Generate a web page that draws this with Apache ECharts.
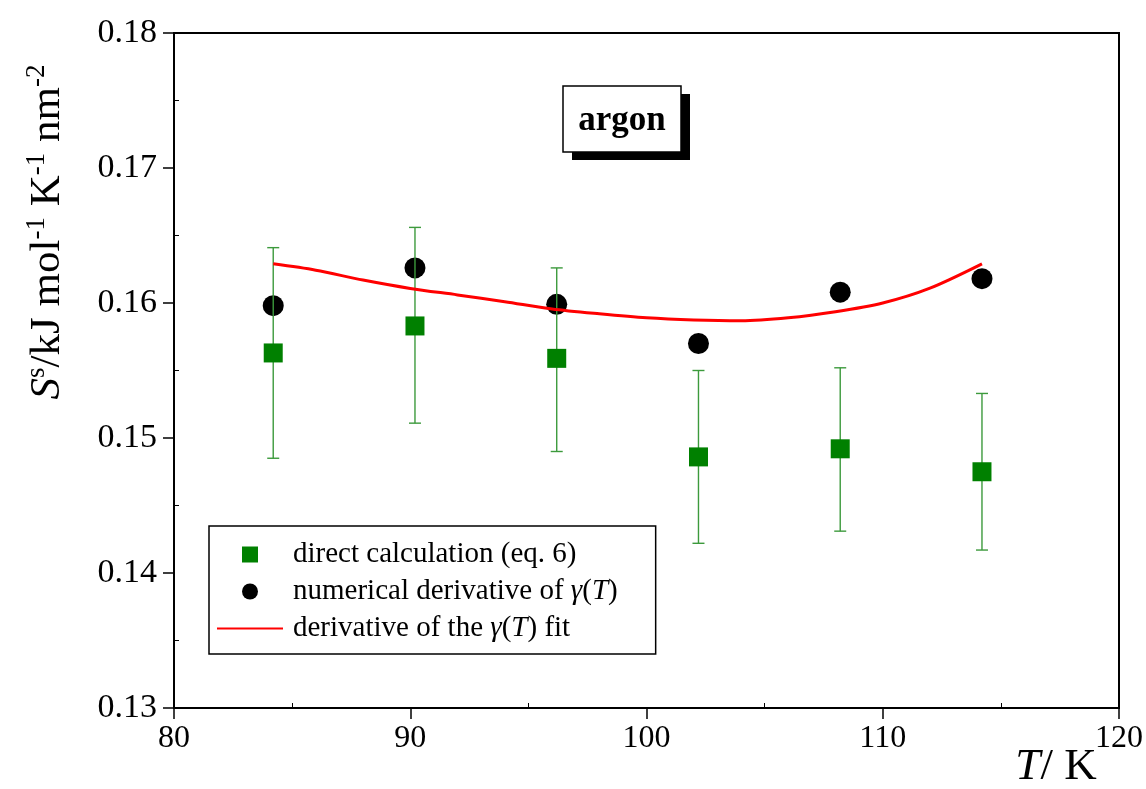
<!DOCTYPE html>
<html>
<head>
<meta charset="utf-8">
<script src="https://cdn.jsdelivr.net/npm/echarts@6/dist/echarts.min.js"></script>
<style>
  html, body { margin: 0; padding: 0; background: #fff; }
  #chart { width: 1146px; height: 789px; }
</style>
</head>
<body>
<div id="chart"></div>
<script>
// ─── data ────────────────────────────────────────────────────
const temps       = [84.2, 90.2, 96.2, 102.2, 108.2, 114.2]
const directVals  = [0.1563, 0.1583, 0.1559, 0.1486, 0.1492, 0.1475]
const directLow   = [0.1485, 0.1511, 0.1490, 0.1422, 0.1431, 0.1417]
const directHigh  = [0.1641, 0.1656, 0.1626, 0.1550, 0.1552, 0.1533]
const numericVals = [0.1598, 0.1626, 0.1599, 0.1570, 0.1608, 0.1618]

// fitted curve (derivative of the gamma(T) fit)
const fitT    = [84.2, 86, 88, 90, 92, 94, 96, 98, 100, 102, 104, 106, 108, 110, 112, 114.2]
const fitVals = [0.1629, 0.16243, 0.1617, 0.16108, 0.1606, 0.1601, 0.15956, 0.1592,
                 0.1589, 0.15874, 0.15868, 0.1589, 0.15935, 0.1600, 0.1611, 0.1629]

const seriesNames = ['direct calculation (eq. 6)', 'numerical derivative of γ(T)', 'derivative of the γ(T) fit']

const SERIF = 'Liberation Serif, Times New Roman, serif'

const chart = echarts.init(document.getElementById('chart'))

// error bars: vertical line + caps
const renderErrorBar = (params, api) => {
  const x    = api.value(0)
  const low  = api.coord([x, api.value(1)])
  const high = api.coord([x, api.value(2)])
  const half = 6
  const style = { stroke: '#3c9a3c', lineWidth: 1.4 }
  return {
    type: 'group',
    children: [
      { type: 'line', shape: { x1: low[0], y1: low[1], x2: high[0], y2: high[1] }, style },
      { type: 'line', shape: { x1: low[0] - half, y1: low[1], x2: low[0] + half, y2: low[1] }, style },
      { type: 'line', shape: { x1: high[0] - half, y1: high[1], x2: high[0] + half, y2: high[1] }, style },
    ],
  }
}

const legendRich = {
  n: { fontFamily: SERIF, fontSize: 29, color: '#000' },
  i: { fontFamily: SERIF, fontSize: 29, color: '#000', fontStyle: 'italic' },
}

chart.setOption({
  animation: false,
  grid: {
    left: 174, right: 27, top: 33, bottom: 81,
    show: true, borderColor: '#000', borderWidth: 2,
  },
  xAxis: {
    type: 'value', min: 80, max: 120, interval: 10,
    axisLine: { lineStyle: { color: '#000', width: 2 } },
    axisTick: { length: 11, lineStyle: { color: '#000', width: 1.5 } },
    minorTick: { show: true, splitNumber: 2, length: -5, lineStyle: { color: '#000' } },
    splitLine: { show: false },
    axisLabel: { fontFamily: SERIF, fontSize: 32, color: '#000', margin: 15 },
  },
  yAxis: {
    type: 'value', min: 0.13, max: 0.18, interval: 0.01,
    axisLine: { lineStyle: { color: '#000', width: 2 } },
    axisTick: { length: 11, lineStyle: { color: '#000', width: 1.5 } },
    minorTick: { show: true, splitNumber: 2, length: -5, lineStyle: { color: '#000' } },
    splitLine: { show: false },
    axisLabel: {
      fontFamily: SERIF, fontSize: 34, color: '#000', margin: 17,
      formatter: v => v.toFixed(2),
    },
  },
  legend: {
    left: 209, top: 526,
    orient: 'vertical',
    backgroundColor: '#fff',
    borderColor: '#000', borderWidth: 1.5,
    padding: [14, 38, 11, 7],
    itemWidth: 66, itemHeight: 16, itemGap: 8,
    symbolKeepAspect: true,
    textStyle: { fontFamily: SERIF, fontSize: 29, color: '#000', lineHeight: 29, padding: [0, 0, 0, 5], rich: legendRich },
    formatter: name => {
      if (name === seriesNames[1]) return '{n|numerical derivative of }{i|γ}{n|(}{i|T}{n|)}'
      if (name === seriesNames[2]) return '{n|derivative of the }{i|γ}{n|(}{i|T}{n|) fit}'
      return '{n|' + name + '}'
    },
    data: [
      { name: seriesNames[0], icon: 'path://M0,0L10,0L10,10L0,10Z' },
      { name: seriesNames[1], icon: 'circle' },
      { name: seriesNames[2], itemStyle: { opacity: 0 } },
    ],
  },
  graphic: [
    // y axis title
    {
      type: 'text', x: 46, y: 232, rotation: Math.PI / 2,
      style: {
        text: '{it|S}{sup|s}{n|/kJ mol}{sup|-1}{n| K}{sup|-1}{n| nm}{sup|-2}',
        align: 'center', verticalAlign: 'middle',
        rich: {
          it:  { fontFamily: SERIF, fontSize: 43, fontStyle: 'italic', fill: '#000', lineHeight: 46, verticalAlign: 'bottom' },
          n:   { fontFamily: SERIF, fontSize: 43, fill: '#000', lineHeight: 46, verticalAlign: 'bottom' },
          sup: { fontFamily: SERIF, fontSize: 27, fill: '#000', lineHeight: 27, verticalAlign: 'top' },
        },
      },
    },
    // x axis title
    {
      type: 'text', x: 1056, y: 767,
      style: {
        text: '{it|T}{n|/ K}',
        align: 'center', verticalAlign: 'middle',
        rich: {
          it: { fontFamily: SERIF, fontSize: 45, fontStyle: 'italic', fill: '#000' },
          n:  { fontFamily: SERIF, fontSize: 45, fill: '#000' },
        },
      },
    },
    // "argon" label with drop shadow
    { type: 'rect', shape: { x: 572, y: 94, width: 118, height: 66 }, style: { fill: '#000' } },
    { type: 'rect', shape: { x: 563, y: 86, width: 118, height: 66 }, style: { fill: '#fff', stroke: '#000', lineWidth: 1.5 } },
    {
      type: 'text', x: 622, y: 121,
      style: {
        text: 'argon', align: 'center', verticalAlign: 'middle',
        fontFamily: SERIF, fontSize: 35, fontWeight: 'bold', fill: '#000',
      },
    },
  ],
  series: [
    {
      name: seriesNames[1],
      type: 'scatter',
      symbol: 'circle', symbolSize: 21,
      itemStyle: { color: '#000', opacity: 1 },
      z: 2,
      data: temps.map((t, i) => [t, numericVals[i]]),
    },
    {
      name: 'error',
      type: 'custom',
      renderItem: renderErrorBar,
      z: 3,
      data: temps.map((t, i) => [t, directLow[i], directHigh[i]]),
    },
    {
      name: seriesNames[0],
      type: 'scatter',
      symbol: 'rect', symbolSize: 19,
      itemStyle: { color: '#008000', opacity: 1 },
      z: 4,
      data: temps.map((t, i) => [t, directVals[i]]),
    },
    {
      name: seriesNames[2],
      type: 'line',
      symbol: 'none',
      smooth: 0.3,
      lineStyle: { color: '#ff0000', width: 3 },
      itemStyle: { color: '#ff0000' },
      z: 5,
      data: fitT.map((t, i) => [t, fitVals[i]]),
    },
  ],
})
</script>
</body>
</html>
